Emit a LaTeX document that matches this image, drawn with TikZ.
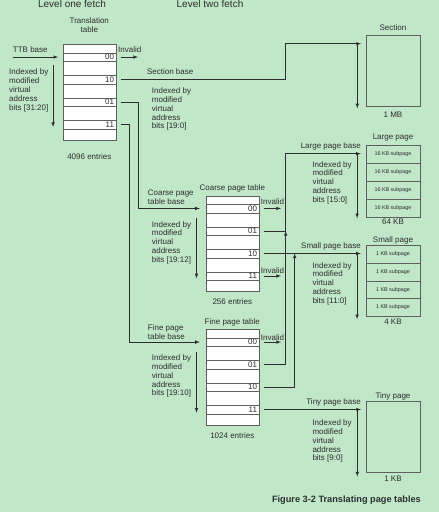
\documentclass[tikz,border=0pt]{standalone}
\usepackage{fontspec}
\setmainfont{Liberation Sans}
\usetikzlibrary{arrows,positioning}

\definecolor{pagegreen}{RGB}{192,231,200}
\definecolor{inkgray}{RGB}{45,45,45}
\definecolor{rulegray}{RGB}{95,95,95}

\tikzset{
  lbl/.style={font=\fontsize{8}{8.9}\selectfont, text=inkgray, inner sep=0pt},
  idxlbl/.style={lbl, align=left, anchor=north west},
  tbl/.style={draw=rulegray, fill=white, minimum width=53.6pt, minimum height=95.5pt, inner sep=0pt},
  entry/.style={tbl, minimum height=8.5pt, text width=49pt, inner xsep=2.3pt, align=right,
    font=\fontsize{8}{8}\selectfont, text=inkgray},
  pgbox/.style={draw=rulegray, minimum width=53.4pt, inner sep=0pt},
  subpg/.style={pgbox, minimum height=18pt, font=\fontsize{5.4}{6}\selectfont, text=inkgray},
  link/.style={draw=inkgray, line width=0.6pt, ->, >=latex},
}

% table with four entry rows: name, x, top, labels
\newcommand{\pgtable}[4]{%
  \node[tbl, anchor=north] (#1) at (#2,#3) {};
  \foreach \lab [count=\i] in {#4}
    \node[entry] (#1\lab) at (#2,{#3+12.75+(\i-1)*22.5}) {\lab};
}

\begin{document}
\begin{tikzpicture}[x=1pt,y=-1pt]
  \path[fill=pagegreen, use as bounding box] (0,0) rectangle (439,512);

  \node[lbl, font=\fontsize{10}{12}\selectfont] (lvlone) at (72,4.3) {Level one fetch};
  \node[lbl, font=\fontsize{10}{12}\selectfont] (lvltwo) at (210,4.3) {Level two fetch};

  % tables
  \pgtable{tt}{89.5}{44.3}{00,10,01,11}
  \pgtable{cpt}{232.5}{195.7}{00,01,10,11}
  \pgtable{fpt}{232.5}{329.3}{00,01,10,11}

  \node[lbl, align=center, anchor=north] (ttname) at (89.3,17.5) {Translation\\table};
  \node[lbl] (ttsize) at (89.3,156.7) {4096 entries};
  \node[lbl] (cptname) at (232.3,188.7) {Coarse page table};
  \node[lbl] (cptsize) at (232.3,301.7) {256 entries};
  \node[lbl] (fptname) at (232.3,322.3) {Fine page table};
  \node[lbl] (fptsize) at (232.3,436) {1024 entries};

  % pages
  \node[pgbox, minimum height=71pt, anchor=north west] (sec) at (366.3,35) {};
  \node[pgbox, minimum height=71pt, anchor=north west] (tp) at (366.3,401.3) {};
  \foreach \i in {1,...,4} {
    \node[subpg] (lp\i) at (393,{135.7+18*\i}) {16 KB subpage};
    \node[subpg, minimum height=17.75pt] (sp\i) at (393,{236.4+17.75*\i}) {1 KB subpage};
  }
  \node[lbl] (secname) at (393,27.7) {Section};
  \node[lbl] (secsize) at (393,115) {1 MB};
  \node[lbl] (lpname) at (393,137.7) {Large page};
  \node[lbl] (lpsize) at (393,221.7) {64 KB};
  \node[lbl] (spname) at (393,240) {Small page};
  \node[lbl] (spsize) at (393,322) {4 KB};
  \node[lbl] (tpname) at (393,396.7) {Tiny page};
  \node[lbl] (tpsize) at (393,478.3) {1 KB};

  % base labels
  \node[lbl] (ttb) at (30.3,49.3) {TTB base};
  \node[lbl] (secb) at (170.2,72) {Section base};
  \node[lbl, align=left, anchor=north west] (cptb) at (147.7,189.5) {Coarse page\\table base};
  \node[lbl, align=left, anchor=north west] (fptb) at (147.7,324.3) {Fine page\\table base};
  \node[lbl, anchor=east] (lpb) at (361,146.3) {Large page base};
  \node[lbl, anchor=east] (spb) at (361,246.7) {Small page base};
  \node[lbl, anchor=east] (tpb) at (361,402.7) {Tiny page base};

  \node[lbl] (ttinvl) at (129.8,50) {Invalid};
  \node[lbl] (cptinvl0) at (272.5,201.7) {Invalid};
  \node[lbl] (cptinvl3) at (272.5,270.7) {Invalid};
  \node[lbl] (fptinvl0) at (272.5,338) {Invalid};

  % index labels
  \node[idxlbl] (ttidx) at (9,68.7) {Indexed by\\modified\\virtual\\address\\bits [31:20]};
  \node[idxlbl] (secidx) at (151.7,87.3) {Indexed by\\modified\\virtual\\address\\bits [19:0]};
  \node[idxlbl] (cptidx) at (151.7,221) {Indexed by\\modified\\virtual\\address\\bits [19:12]};
  \node[idxlbl] (fptidx) at (151.7,354.3) {Indexed by\\modified\\virtual\\address\\bits [19:10]};
  \node[idxlbl] (lpidx) at (312.3,161) {Indexed by\\modified\\virtual\\address\\bits [15:0]};
  \node[idxlbl] (spidx) at (312.3,262) {Indexed by\\modified\\virtual\\address\\bits [11:0]};
  \node[idxlbl] (tpidx) at (312.3,419.3) {Indexed by\\modified\\virtual\\address\\bits [9:0]};

  % routing points
  \coordinate (colA) at (285.7,0);
  \coordinate (colB) at (294.7,0);
  \coordinate (colC) at (138.3,0);
  \coordinate (colD) at (129.3,0);
  \coordinate (ttbin) at (13.3,0);
  \coordinate (ttinv) at (138,0);
  \coordinate (l2inv) at (281,0);
  \coordinate (secin) at ([xshift=-5.3pt,yshift=-8.7pt]sec.north west);
  \coordinate (lpin) at ([xshift=-5.3pt]lp1.west);
  \coordinate (spin) at ([xshift=-5.3pt]sp1.west);
  \coordinate (tpin) at ([xshift=-5.3pt]tp.north west);
  \coordinate (cptin) at ([xshift=-5.7pt]cpt00.west);
  \coordinate (fptin) at ([xshift=-5.7pt]fpt00.west);

  % connectors
  \draw[link] (ttbin |- tt00.west) -- ([xshift=-4.4pt]tt00.west);
  \draw[link] ([xshift=4.4pt]tt00.east) -- (ttinv |- tt00.east);
  \draw[link] ([xshift=4.4pt]tt10.east) -| (colA |- secin) -- (secin);
  \draw[link] ([xshift=4.4pt]tt01.east) -| (colC |- cptin) -- (cptin);
  \draw[link] ([xshift=4.4pt]tt11.east) -| (colD |- fptin) -- (fptin);
  \draw[link] ([xshift=4pt]cpt00.east) -- (l2inv |- cpt00.east);
  \draw[link] ([xshift=4pt]cpt01.east) -| (colA |- lpin) -- (lpin);
  \draw[link] ([xshift=4pt]cpt10.east) -- (spin |- cpt10.east);
  \draw[link] ([xshift=4pt]cpt11.east) -- (l2inv |- cpt11.east);
  \draw[link] ([xshift=4pt]fpt00.east) -- (l2inv |- fpt00.east);
  \draw[link] ([xshift=4pt]fpt01.east) -| (colA |- cpt01.east);
  \draw[link] ([xshift=4pt]fpt10.east) -| (colB |- cpt10.east);
  \draw[link] ([xshift=4pt]fpt11.east) -- (tpin |- fpt11.east);

  % index arrows
  \draw[link] ([xshift=-9.4pt,yshift=-20.7pt]tt.north west) -- ++(0,62);
  \draw[link] ([xshift=-9pt,yshift=-22.6pt]cpt.north west) -- ++(0,60);
  \draw[link] ([xshift=-9pt,yshift=-22.4pt]fpt.north west) -- ++(0,61);
  \draw[link] ([xshift=-3.7pt]secin) -- ++(0,64.6);
  \draw[link] ([xshift=-3.7pt]lpin) -- ++(0,64.6);
  \draw[link] ([xshift=-3.7pt]spin) -- ++(0,65);
  \draw[link] ([xshift=-3.7pt,yshift=-8.2pt]tpin) -- ++(0,67);

  \node[lbl, font=\fontsize{9.2}{11}\selectfont\bfseries, anchor=east] (caption) at (421,500)
    {Figure 3-2 Translating page tables};
\end{tikzpicture}
\end{document}
